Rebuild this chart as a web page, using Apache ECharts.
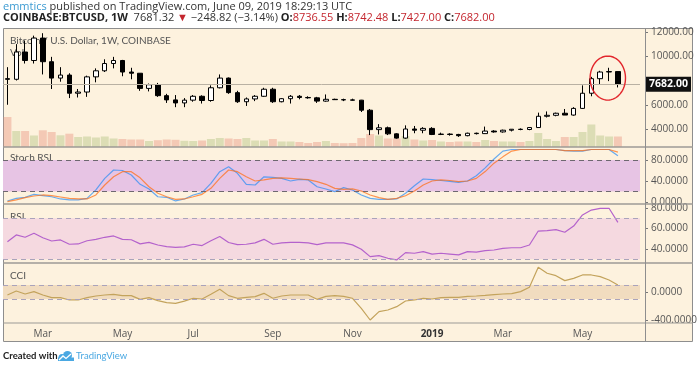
<!DOCTYPE html>
<html><head><meta charset="utf-8">
<script src="https://cdn.jsdelivr.net/npm/echarts@6/dist/echarts.min.js"></script>
<style>html,body{margin:0;padding:0;background:#fff;}#c{width:700px;height:369px;}</style>
</head><body><div id="c"></div>
<script>
const weeks = ['2018-02-05','2018-02-12','2018-02-19','2018-02-26','2018-03-05','2018-03-12','2018-03-19','2018-03-26',
'2018-04-02','2018-04-09','2018-04-16','2018-04-23','2018-04-30','2018-05-07','2018-05-14','2018-05-21','2018-05-28',
'2018-06-04','2018-06-11','2018-06-18','2018-06-25','2018-07-02','2018-07-09','2018-07-16','2018-07-23','2018-07-30',
'2018-08-06','2018-08-13','2018-08-20','2018-08-27','2018-09-03','2018-09-10','2018-09-17','2018-09-24',
'2018-10-01','2018-10-08','2018-10-15','2018-10-22','2018-10-29','2018-11-05','2018-11-12','2018-11-19','2018-11-26',
'2018-12-03','2018-12-10','2018-12-17','2018-12-24','2018-12-31','2019-01-07','2019-01-14','2019-01-21','2019-01-28',
'2019-02-04','2019-02-11','2019-02-18','2019-02-25','2019-03-04','2019-03-11','2019-03-18','2019-03-25',
'2019-04-01','2019-04-08','2019-04-15','2019-04-22','2019-04-29','2019-05-06','2019-05-13','2019-05-20','2019-05-27','2019-06-03'];
const padWeeks = ['2019-06-10','2019-06-17'];

const opens = [8150,8100,10350,9650,11500,9550,8200,8450,6950,7050,
8300,8800,9400,9650,8700,8600,7350,7650,6750,6400,
6150,6380,6700,6350,7400,8200,7000,6250,6480,6700,
7280,6250,6500,6700,6600,6570,6300,6450,6420,6400,
6380,5550,3950,4100,3600,3250,4000,3900,4050,3550,
3580,3550,3450,3650,3620,3830,3760,3900,3980,3960,
4120,5050,5130,5300,5150,5700,6950,8150,8700,8736.55];
const highs = [9100,11000,11300,11700,11900,9950,9100,8600,7300,8400,
9000,9750,9950,9700,9050,8600,7750,7800,6900,6800,
6550,6800,6780,7600,8500,8250,7150,6600,6800,7400,
7400,6550,6800,6800,6700,6650,6850,6500,6500,6500,
6400,5650,4400,4200,3650,4300,4250,4150,4150,3700,
3650,3600,3700,3700,4200,3900,3950,4000,4050,4150,
5350,5450,5350,5650,5800,7600,8300,8800,9050,8742.48];
const lows = [6000,8000,9400,9400,8500,7300,7900,6550,6600,6650,
7850,8700,9000,8350,8100,7150,7100,6650,6150,5800,
5800,6250,6100,6250,7350,6900,6150,5900,6300,6650,
6150,6200,6100,6450,6500,6150,6250,6400,6300,6350,
5400,3500,3550,3500,3200,3200,3650,3650,3500,3500,
3450,3350,3400,3550,3600,3700,3700,3800,3900,3900,
4100,4950,5050,5150,5100,5650,6700,7650,7950,7427];
const closes = [8100,10350,9650,11500,9550,8200,8450,6950,7050,8300,
8800,9400,9650,8700,8600,7350,7650,6750,6400,6150,
6380,6700,6350,7400,8200,7000,6250,6480,6700,7280,
6250,6500,6700,6600,6570,6300,6450,6420,6400,6380,
5550,3950,4100,3600,3250,4000,3900,4050,3550,3580,
3550,3450,3650,3620,3830,3760,3900,3980,3960,4120,
5050,5130,5300,5150,5700,6950,8150,8700,8740,7682];
const volumes = [300,160,160,115,167,150,117,133,100,105,
95,105,85,80,75,75,60,68,75,72,
62,60,65,80,90,85,80,90,65,65,
80,55,55,50,40,50,60,40,38,40,
90,130,115,85,85,110,75,65,70,55,
50,55,55,50,70,60,55,55,50,60,
140,80,60,100,100,150,225,115,105,105];
const stochK = [1.9,7,9,14.6,12,10,5.8,4,4,7,
23,45,61,60,51.5,33.7,24.8,10,9,2,
5.8,13.4,18,35.6,57.8,67,54.6,33.7,32.4,48,
47,45,40,43,42,29,24.8,19.7,27.4,22.9,
13.4,7,5,5,5.8,16.6,31,43.8,42.5,41,
39.4,37.5,40,50,65,82,97,100,100,100,
100,100,100,98,97,97,100,100,100,88];
const stochD = [0.6,4,8.3,11.4,13.4,12,9.5,7,5.8,5.8,
13.4,32.4,48,57.8,57.8,46,29,16.6,10,5,
5.8,10,14.6,26,45,61,57.8,48,40,42,
45,46,45,43.8,42.5,38.7,33.7,26,24,25,
21,13.4,8.3,5,7,12,21,32.4,40,42,
41,38.7,40,45,58,74,86,97,100,100,
100,100,100,98,98,98,100,100,100,95];
const rsi = [47,53.7,51.4,55.3,51,47.8,48.8,44.6,44.9,48,
49.4,51.4,52.7,49.4,49,45,46.5,43.9,42.3,41.6,
42,44.6,43.3,48,52.2,46.3,44.3,44.6,46,49.4,
44.6,46,46.5,46.5,46,44.3,46,46,46,44,
39.8,32.5,33.5,30.9,29.3,36.4,35.8,37.4,35,35.8,
35,34.2,37.4,37,38.4,39,40.6,41.2,41.2,43.9,
57.5,57.9,58.9,56.3,62.4,73.2,78,79.7,79.7,66];
const cci = [-43,14,-29,5,-43,-81,-81,-114,-114,-81,
-57,-43,-33,-52,-52,-105,-81,-124,-152,-162,
-130,-90,-100,-33,38,-52,-90,-76,-67,-19,
-90,-57,-43,-43,-43,-105,-62,-52,-62,-90,
-233,-400,-281,-257,-210,-129,-114,-90,-100,-81,
-76,-76,-62,-57,-48,-38,-29,-24,5,67,
353,267,233,162,195,243,243,219,171,100];

const monthTickDates = ['2018-03-05','2018-05-07','2018-07-02','2018-09-03','2018-11-05','2019-01-07','2019-03-04','2019-05-06'];
const monthTickLabels = ['Mar','May','Jul','Sep','Nov','2019','Mar','May'];
const priceTicks = [4000,6000,10000,12000];
const stochTicks = [0,40,80];
const rsiTicks = [40,60,80];
const cciTicks = [-400,0];
const stochBands = [20,80];
const rsiBands = [30,70];
const cciBands = [-100,100];

const FONT = '"Open Sans", "Noto Sans", sans-serif';
const FONT2 = 'Lato, "Open Sans", sans-serif';
const cats = weeks.concat(padWeeks);
const candleData = weeks.map((w,i)=>[opens[i],closes[i],lows[i],highs[i]]);
const volData = volumes.map((v,i)=>({value:v, itemStyle:{color: closes[i] < opens[i] ? 'rgba(232,150,130,0.45)' : 'rgba(170,190,120,0.4)'}}));

const chart = echarts.init(document.getElementById('c'), null, {renderer:'canvas'});

const grids = [
  {left:3, width:637, top:28, height:119},
  {left:3, width:637, top:147, height:57},
  {left:3, width:637, top:204, height:59},
  {left:3, width:637, top:263, height:60}
];
function xAx(i){
  const show = i === 3;
  return {type:'category', gridIndex:i, data:cats, boundaryGap:true,
    axisLine:{show:false},
    axisTick:{show:show, length:3, alignWithLabel:true, lineStyle:{color:'#777'},
      interval:(idx,val)=>monthTickDates.includes(val)},
    axisLabel:{show:show, margin:6, fontSize:10, fontFamily:FONT, color:'#555',
      interval:(idx,val)=>monthTickDates.includes(val),
      formatter:(val)=>{const k=monthTickDates.indexOf(val); if(k<0) return ''; const t=monthTickLabels[k]; return /^\d{4}$/.test(t)?'{y|'+t+'}':t;},
      rich:{y:{fontWeight:'bold', color:'#333', fontSize:10, fontFamily:FONT}}},
    splitLine:{show:false}};
}
function yAx(grid, min, max, ticks, dec){
  return {type:'value', gridIndex:grid, position:'right', offset:5, min:min, max:max, scale:true,
    splitLine:{show:false}, axisLine:{show:false},
    axisTick:{show:true, length:3, customValues:ticks, lineStyle:{color:'#777'}},
    axisLabel:{show:true, customValues:ticks, margin:6, fontSize:10, fontFamily:FONT, color:'#555',
      formatter:(v)=>v.toFixed(dec)}};
}
function bandMarks(bands, lineColor, fillColor){
  return {
    markArea:{silent:true, itemStyle:{color:fillColor}, data:[[{yAxis:bands[0]},{yAxis:bands[1]}]]},
    markLine:{silent:true, symbol:'none', label:{show:false},
      lineStyle:{color:lineColor, type:[5,4], width:1}, data:[{yAxis:bands[0]},{yAxis:bands[1]}]}
  };
}

const option = {
  animation:false,
  backgroundColor:'#ffffff',
  grid:grids,
  xAxis:[xAx(0),xAx(1),xAx(2),xAx(3)],
  yAxis:[
    yAx(0, 2516, 12330, priceTicks, 2),
    {type:'value', gridIndex:0, min:0, max:1190, show:false},
    yAx(1, -3.8, 104.8, stochTicks, 4),
    yAx(2, 26.3, 83.9, rsiTicks, 4),
    yAx(3, -443, 414, cciTicks, 4)
  ],
  series:[
    {type:'bar', name:'Vol', xAxisIndex:0, yAxisIndex:1, data:volData, barWidth:8, z:1},
    {type:'candlestick', name:'BTCUSD', xAxisIndex:0, yAxisIndex:0, data:candleData, barWidth:5, z:3,
      itemStyle:{color:'#ffffff', color0:'#000000', borderColor:'#000000', borderColor0:'#000000', borderWidth:1},
      markLine:{silent:true, symbol:'none', precision:2,
        lineStyle:{color:'#b9b1a3', type:'solid', width:1},
        label:{show:true, position:'end', distance:6, formatter:(p)=>p.value.toFixed(2),
          backgroundColor:'#111', color:'#fff', fontWeight:'bold', fontSize:10.5, fontFamily:FONT, padding:[2,3,2,3]},
        data:[{yAxis:closes[closes.length-1]}]}},
    Object.assign({type:'line', name:'K', xAxisIndex:1, yAxisIndex:2, data:stochK, symbol:'none',
      lineStyle:{color:'rgba(40,140,245,0.7)', width:1.2}, z:3}, bandMarks(stochBands,'#6e6870','#e7c4e4')),
    {type:'line', name:'D', xAxisIndex:1, yAxisIndex:2, data:stochD, symbol:'none',
      lineStyle:{color:'rgba(255,110,20,0.72)', width:1.2}, z:3},
    Object.assign({type:'line', name:'RSI', xAxisIndex:2, yAxisIndex:3, data:rsi, symbol:'none',
      lineStyle:{color:'#b462cc', width:1.2}, z:3}, bandMarks(rsiBands,'#aaa3bb','#f5d9e0')),
    Object.assign({type:'line', name:'CCI', xAxisIndex:3, yAxisIndex:4, data:cci, symbol:'none',
      lineStyle:{color:'#c3a35c', width:1.2}, z:3}, bandMarks(cciBands,'#aaa3bb','#f1dcbf'))
  ],
  graphic:{elements:[
    {type:'rect', id:'bg', z:-5, shape:{x:3.5,y:28.5,width:689,height:313}, style:{fill:'#fdf2de', stroke:'#8e8e8e', lineWidth:1}},
    {type:'line', id:'s1', z:10, shape:{x1:3,y1:147,x2:693,y2:147}, style:{stroke:'#9c9a96', lineWidth:1.6}},
    {type:'line', id:'s2', z:10, shape:{x1:3,y1:204,x2:693,y2:204}, style:{stroke:'#9c9a96', lineWidth:1.6}},
    {type:'line', id:'s3', z:10, shape:{x1:3,y1:263,x2:693,y2:263}, style:{stroke:'#9c9a96', lineWidth:1.6}},
    {type:'line', id:'s4', z:10, shape:{x1:3,y1:323,x2:693,y2:323}, style:{stroke:'#9c9a96', lineWidth:1.2}},
    {type:'line', id:'v1', z:10, shape:{x1:645.5,y1:28,x2:645.5,y2:342}, style:{stroke:'#8e8e8e', lineWidth:1}},
    {type:'text', id:'t1', z:1, x:3, y:7, style:{text:'{a|emmtics} published on TradingView.com, June 09, 2019 18:29:13 UTC',
      fill:'#333', fontSize:11, fontFamily:FONT, verticalAlign:'middle',
      rich:{a:{fill:'#3c9bd2', fontSize:11, fontFamily:FONT}}}},
    {type:'text', id:'t2', z:1, x:3, y:18, style:{text:'{b|COINBASE:BTCUSD, 1W}  7681.32 {r|▼} −248.82 (−3.14%) {b|O:}{r|8736.55} {b|H:}{r|8742.48} {b|L:}{r|7427.00} {b|C:}{r|7682.00}',
      fill:'#333', fontSize:11, fontFamily:FONT, verticalAlign:'middle',
      rich:{b:{fontWeight:'bold', fill:'#222', fontSize:11, fontFamily:FONT}, r:{fill:'#c4262e', fontSize:11, fontFamily:FONT}}}},
    {type:'text', id:'t3', z:1, x:10, y:41, style:{text:'Bitcoin / U.S. Dollar, 1W, COINBASE', fill:'#555', fontSize:10, fontFamily:FONT2, verticalAlign:'middle'}},
    {type:'text', id:'t4', z:1, x:10, y:53, style:{text:'Vol', fill:'#555', fontSize:10, fontFamily:FONT2, verticalAlign:'middle'}},
    {type:'text', id:'t5', z:1, x:10, y:158, style:{text:'Stoch RSI', fill:'#555', fontSize:10, fontFamily:FONT2, verticalAlign:'middle'}},
    {type:'text', id:'t6', z:1, x:10, y:217, style:{text:'RSI', fill:'#555', fontSize:10, fontFamily:FONT2, verticalAlign:'middle'}},
    {type:'text', id:'t7', z:1, x:10, y:276, style:{text:'CCI', fill:'#555', fontSize:10, fontFamily:FONT2, verticalAlign:'middle'}},
    {type:'text', id:'f1', z:1, x:3, y:356, style:{text:'Created with', fill:'#222', fontWeight:'bold', fontSize:9.5, fontFamily:FONT2, verticalAlign:'middle'}},
    {type:'circle', id:'lg1', z:1, shape:{cx:62,cy:357.5,r:3.5}, style:{fill:'#4aa8e2'}},
    {type:'circle', id:'lg2', z:1, shape:{cx:67.5,cy:355.5,r:4.5}, style:{fill:'#4aa8e2'}},
    {type:'rect', id:'lg3', z:1, shape:{x:58,y:357.5,width:16,height:3.5}, style:{fill:'#4aa8e2'}},
    {type:'polyline', id:'lg4', z:2, shape:{points:[[59,360],[63,356],[66,358.5],[71,354]]}, style:{stroke:'#fff', lineWidth:1.3, fill:null}},
    {type:'text', id:'f2', z:1, x:76, y:356, style:{text:'TradingView', fill:'#4aa8e2', fontSize:9.5, fontFamily:FONT2, verticalAlign:'middle'}}
  ]}
};
chart.setOption(option);

const pA = chart.convertToPixel({xAxisIndex:0, yAxisIndex:0}, [67, 8200]);
const pB = chart.convertToPixel({xAxisIndex:0, yAxisIndex:0}, [68, 8200]);
const step = pB[0]-pA[0];
const ecx = pA[0]+0.86*step, ecy = pA[1], erx = 2*step, ery = 22;
const ringPts = [];
for (let k=0;k<64;k++){ const a = k/64*Math.PI*2; ringPts.push([ecx+erx*Math.cos(a), ecy+ery*Math.sin(a)]); }
chart.setOption({graphic:{elements:[
  {type:'polygon', id:'ring', z:12, shape:{points:ringPts}, style:{fill:null, stroke:'#e2262c', lineWidth:1.4}}
]}});
</script></body></html>
